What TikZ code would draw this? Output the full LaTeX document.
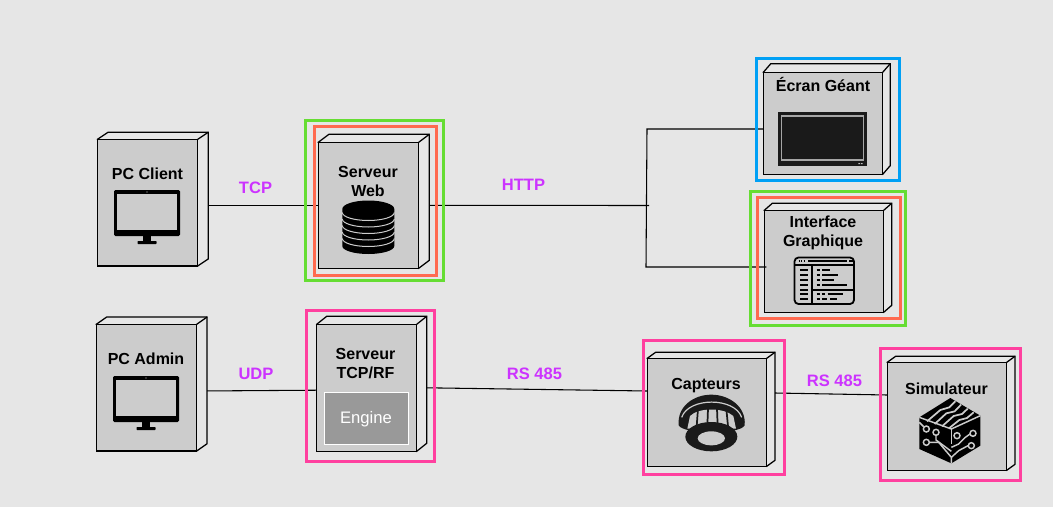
\documentclass[tikz,border=0pt]{standalone}
\usepackage{fontspec}
\setmainfont{Liberation Sans}
\usetikzlibrary{calc}
\definecolor{bgc}{HTML}{E6E6E6}
\definecolor{frontc}{HTML}{CCCCCC}
\definecolor{labelc}{HTML}{CC33FF}
\definecolor{greenc}{HTML}{66DD33}
\definecolor{redc}{HTML}{FF6A50}
\definecolor{bluec}{HTML}{00A0F5}
\definecolor{pinkc}{HTML}{FF409F}
\definecolor{enginec}{HTML}{999999}
\definecolor{tvc}{HTML}{1A1A1A}
\tikzset{
  cubefront/.style={draw=black,fill=frontc,line width=0.95pt,inner sep=0pt,outer sep=0pt},
  cubeside/.style={draw=black,fill=bgc,line width=0.95pt,line join=miter},
  conn/.style={draw=black,line width=0.8pt},
  frame/.style={draw=#1,line width=2.25pt,inner sep=0pt,outer sep=0pt,fill=none},
  boxtitle/.style={font=\fontsize{12}{14.25}\selectfont\bfseries,text=black,align=center,inner sep=0pt},
  linklabel/.style={font=\fontsize{12.4}{14}\selectfont\bfseries,text=labelc,inner sep=0pt},
  iconline/.style={draw=black,line width=1.35pt},
  gapline/.style={draw=frontc,line width=0.8pt},
}
\newcommand{\cubebox}[7]{%
  \pgfmathsetlengthmacro{\cw}{(#4-#2)*0.75pt}%
  \pgfmathsetlengthmacro{\ch}{(#5-#3)*0.75pt}%
  \pgfmathsetmacro{\cwn}{#4-#2}%
  \pgfmathsetmacro{\chn}{#5-#3}%
  \pgfmathsetmacro{\cx}{(#2+#4)/2}%
  \pgfmathsetmacro{\cy}{(#3+#5)/2}%
  \node[minimum width=\cw,minimum height=\ch,inner sep=0pt,outer sep=0pt] (#1) at (\cx,\cy) {};
  \draw[cubeside] (#1.north west) -- ++(#6,-#7) -- ++(\cwn,0) -- ++(0,\chn) -- (#1.south east) -- cycle;
  \draw[cubeside] (#1.north east) -- ++(#6,-#7);
  \node[cubefront,minimum width=\cw,minimum height=\ch] at (\cx,\cy) {};
  \coordinate (#1-r) at ($(#1.east)+(#6,0)$);
}
\newcommand{\frameBox}[6]{%
  \pgfmathsetlengthmacro{\cw}{(#4-#2)*0.75pt}%
  \pgfmathsetlengthmacro{\ch}{(#5-#3)*0.75pt}%
  \pgfmathsetmacro{\cx}{(#2+#4)/2}%
  \pgfmathsetmacro{\cy}{(#3+#5)/2}%
  \node[frame=#6,minimum width=\cw,minimum height=\ch] (#1) at (\cx,\cy) {};
}
\newcommand{\monitoricon}[2]{%
  \begin{scope}[shift={(#1,#2)}]
    \fill[black,rounded corners=1pt] (114,190) rectangle (180,236);
    \fill[frontc] (117,194) rectangle (177,229.5);
    \fill[black] (143,236) rectangle (151,241);
    \fill[black,rounded corners=0.5pt] (137.5,241) rectangle (156.5,244);
    \fill[frontc] (147,192) circle (0.6);
  \end{scope}
}
\begin{document}
\begin{tikzpicture}[x=0.75pt,y=-0.75pt]
\useasboundingbox (0,0) rectangle (1053,507);
\fill[bgc] (0,0) rectangle (1053,507);

% cubes
\cubebox{client}{97.5}{139.3}{197.7}{266}{10.5}{7}
\cubebox{web}{318.3}{142.3}{418.7}{268.3}{10.6}{8}
\cubebox{ecran}{763.3}{72.3}{882.7}{174.3}{7.5}{8.6}
\cubebox{iface}{764.3}{210.3}{883.7}{312.3}{8}{7}
\cubebox{admin}{96.3}{324.3}{196.7}{451}{10.4}{7.3}
\cubebox{tcprf}{316.7}{324.3}{416.7}{451.3}{10}{8}
\cubebox{capteurs}{647.3}{358.3}{766.7}{466.3}{8.3}{6}
\cubebox{simu}{887.3}{362.3}{1006.7}{470.3}{8.3}{6}

% connectors
\coordinate (junction) at (649,205.5);
\coordinate (branchTop) at (647,129);
\coordinate (branchBot) at (646,267);
\draw[conn] (client-r |- web.west) -- (web.west);
\draw[conn] (web-r) -- (junction);
\draw[conn] (ecran.west |- branchTop) -- (branchTop) -- (branchBot) -- ($(iface.west |- branchBot)+(2,0)$);
\draw[conn] ($(admin-r)+(0,3.3)$) -- ($(tcprf.west)+(0,2.4)$);
\draw[conn] ($(tcprf-r)+(0,0)$) -- ($(capteurs.west)+(0,-21.3)$);
\draw[conn] ($(capteurs-r)+(0,-19.3)$) -- ($(simu.west)+(0,-21.3)$);

% engine
\node[draw=white,fill=enginec,line width=0.8pt,minimum width=63.3pt,minimum height=38.7pt,inner sep=0pt] (engine) at (366.5,418.5) {};
\node[text=white,font=\fontsize{12.5}{14}\selectfont,inner sep=0pt] (enginetext) at (366,419.5) {Engine};

% icons
\monitoricon{0}{0}
\monitoricon{-1}{186}

% database
\fill[black] (342.3,209) arc[start angle=180,end angle=360,x radius=26,y radius=8.5]
  -- (394.3,246) arc[start angle=0,end angle=180,x radius=26,y radius=8] -- cycle;
\foreach \yy in {212.5,219,225.5,232,238.5}{
  \draw[draw=frontc,line width=0.75pt] (342.3,\yy) arc[start angle=180,end angle=0,x radius=26,y radius=8];
}

% TV
\fill[tvc] (778,112.3) rectangle (867,165.7);
\draw[draw=black!35,line width=0.9pt] (781.5,116) rectangle (863.5,160);
\fill[black!25] (858.3,163) rectangle (860,164.2) (861,163) rectangle (862.7,164.2);

% window icon
\begin{scope}
\draw[iconline,rounded corners=3pt] (794.5,257.5) rectangle (854,304);
\draw[iconline] (794.5,264.7) -- (854,264.7);
\draw[iconline] (811.7,264.7) -- (811.7,304);
\draw[iconline] (811.7,289.7) -- (854,289.7);
\foreach \yy in {270.3,275.3,280.3,284.7,289.7,294.3,299.3}{\draw[iconline] (800,\yy) -- (808.3,\yy);}
\draw[iconline] (798.5,261.2) -- (799.8,261.2) (801,261.2) -- (802.3,261.2) (803.6,261.2) -- (804.9,261.2)
  (808.3,261.2) -- (846.7,261.2) (849.3,261.2) -- (852.7,261.2);
\foreach \yy/\xe in {270.3/830,275.3/837.7,279.7/834,284.7/846.7}{
  \draw[iconline] (816.7,\yy) -- (820,\yy) (822.3,\yy) -- (\xe,\yy);}
\draw[iconline] (816.7,294.3) -- (820,294.3) (821.7,294.3) -- (825,294.3) (827.7,294.3) -- (843.3,294.3);
\draw[iconline] (816.7,299.3) -- (820,299.3) (821.7,299.3) -- (827.3,299.3) (830,299.3) -- (836.7,299.3);
\end{scope}

% smoke detector (coordinates of the 3x crop)
\begin{scope}[shift={(672,388)},x=0.25pt,y=-0.25pt]
\fill[tvc] (20,112) .. controls (15,55) and (65,20) .. (118,20) .. controls (170,20) and (223,55) .. (218,112)
  .. controls (205,140) and (35,140) .. (20,112) -- cycle;
\draw[draw=frontc,line width=0.9pt] (29,88) .. controls (50,27) and (188,27) .. (209,88);
\fill[frontc] (46,122) -- (54,84) .. controls (80,58) and (155,58) .. (184,84) -- (192,122) -- cycle;
\foreach \xa/\xb in {78/74,108/106,135/137,163/168}{
  \draw[draw=tvc,line width=1.3pt] (\xa,62) -- (\xb,115);
}
\fill[tvc] (118,146) ellipse[x radius=78,y radius=44];
\fill[frontc] (118,151) ellipse[x radius=41,y radius=21];
\end{scope}

% cube icon (coordinates of the 3x crop)
\begin{scope}[shift={(912,394)},x=0.25pt,y=-0.25pt]
\fill[black] (115,12) -- (205,65) -- (205,155) -- (118,208) -- (22,165) -- (22,70) -- cycle;
\draw[gapline,line width=1.1pt] (22,70) -- (118,105) -- (205,65);
\draw[gapline,line width=1.1pt] (118,105) -- (118,150);
\draw[gapline,line width=1.3pt] (45,82) -- (85,48) -- (112,40) -- (130,22);
\draw[gapline,line width=1.3pt] (68,90) -- (103,58) -- (128,52) -- (147,32);
\draw[gapline,line width=1.3pt] (90,97) -- (125,66) -- (150,60) -- (167,44);
\draw[gapline,line width=1.3pt] (112,102) -- (142,78) -- (165,72) -- (185,55);
\draw[gapline,line width=1.1pt] (22,85) -- (35,98);
\draw[gapline,line width=1.1pt] (72,125) -- (72,138) -- (118,172);
\draw[gapline,line width=1.1pt] (53,145) -- (80,145) -- (118,190) -- (118,208);
\draw[gapline,line width=1.1pt] (118,160) -- (140,150) -- (160,130) -- (174,120);
\draw[gapline,line width=1.1pt] (168,155) -- (140,170) -- (118,190);
\foreach \cxx/\cyy in {43/105,72/115,43/145,135/125,183/118,178/155}{
  \draw[gapline,line width=1.1pt,fill=black] (\cxx,\cyy) circle (9);
}
\end{scope}

% titles
\node[boxtitle] (tclient) at (147.5,174) {PC Client};
\node[boxtitle] (tweb) at (368,181.5) {Serveur\\Web};
\node[boxtitle] (tecran) at (823,84) {Écran Géant};
\node[boxtitle] (tiface) at (823,232.5) {Interface\\Graphique};
\node[boxtitle] (tadmin) at (146,359) {PC Admin};
\node[boxtitle] (ttcprf) at (365.5,363.5) {Serveur\\TCP/RF};
\node[boxtitle] (tcapt) at (706,386) {Capteurs};
\node[boxtitle] (tsimu) at (946.5,388.5) {Simulateur};

% link labels
\node[linklabel] (ltcp) at (255.5,188) {TCP};
\node[linklabel] (lhttp) at (523.5,185) {HTTP};
\node[linklabel] (ludp) at (256,374) {UDP};
\node[linklabel] (lrsa) at (534.5,373.5) {RS 485};
\node[linklabel] (lrsb) at (834.5,380.5) {RS 485};

% frames
\frameBox{fwebg}{305}{120.5}{443}{280}{greenc}
\frameBox{fwebr}{314}{126}{436}{275}{redc}
\frameBox{fecran}{756}{58}{899}{180}{bluec}
\frameBox{fifg}{750.5}{191.5}{905.5}{325}{greenc}
\frameBox{fifr}{757}{197}{900}{318.7}{redc}
\frameBox{ftcp}{306}{310}{434}{461.7}{pinkc}
\frameBox{fcapt}{643.7}{340}{784}{474}{pinkc}
\frameBox{fsimu}{880}{348}{1020}{480.7}{pinkc}
\end{tikzpicture}
\end{document}
